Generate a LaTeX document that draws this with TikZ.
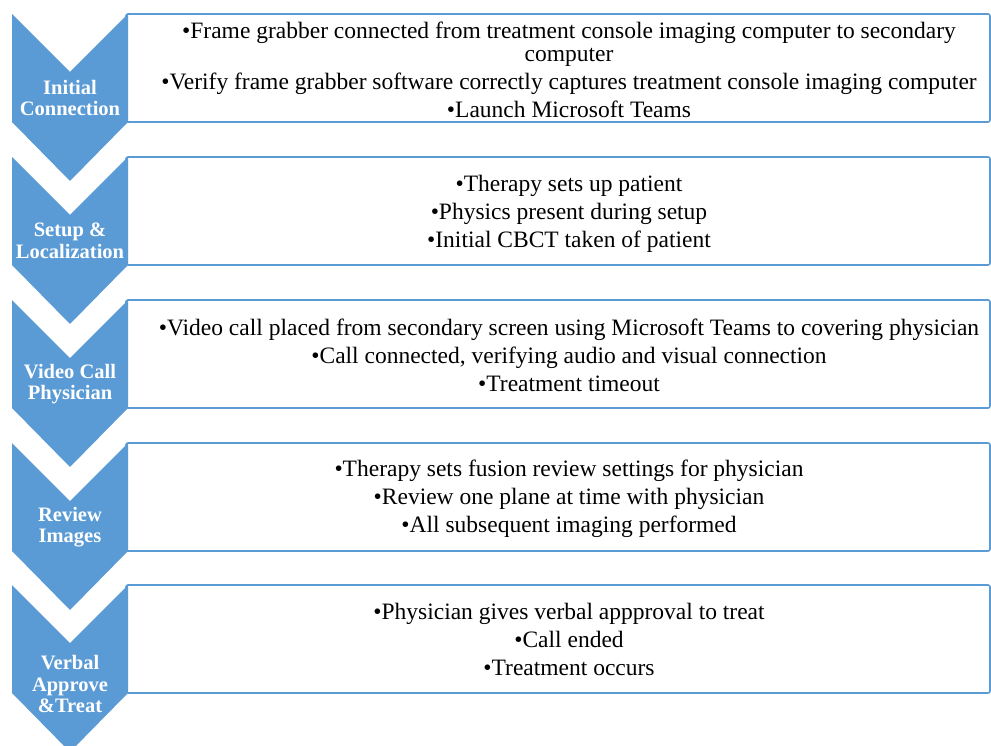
\documentclass[tikz,border=0pt]{standalone}
\usepackage{fontspec}
\setmainfont{Liberation Serif}
\definecolor{stepblue}{HTML}{5B9BD5}
\begin{document}
\begin{tikzpicture}[x=1pt, y=-1pt,
    box/.style={rectangle, draw=stepblue, line width=1.6pt, rounded corners=2pt, fill=white,
      minimum width=864pt, minimum height=108pt, inner sep=0pt},
    txt/.style={align=center, inner sep=0pt, font=\fontsize{23.5}{28}\selectfont},
    chev/.style={fill=stepblue},
    lbl/.style={text=white, align=center, inner sep=0pt, font=\bfseries\fontsize{20.5}{21.5}\selectfont}]
  \clip (0,0) rectangle (991,746);
  % Boxes
  \node (b1) [box] at (558, 68) {};
  \node (b2) [box] at (558, 211) {};
  \node (b3) [box] at (558, 354) {};
  \node (b4) [box] at (558, 497) {};
  \node (b5) [box] at (558, 639) {};
  % Texts
  \node (t1) [txt] at (569, 70) {•Frame grabber connected from treatment console imaging computer to secondary\\[-5pt] computer\\
    •Verify frame grabber software correctly captures treatment console imaging computer\\
    •Launch Microsoft Teams};
  \node (t2) [txt] at (569, 214) {•Therapy sets up patient\\ •Physics present during setup\\ •Initial CBCT taken of patient};
  \node (t3) [txt] at (569, 355) {•Video call placed from secondary screen using Microsoft Teams to covering physician\\ •Call connected, verifying audio and visual connection\\ •Treatment timeout};
  \node (t4) [txt] at (569, 499) {•Therapy sets fusion review settings for physician\\ •Review one plane at time with physician\\ •All subsequent imaging performed};
  \node (t5) [txt] at (569, 639) {•Physician gives verbal appproval to treat\\ •Call ended\\ •Treatment occurs};
  % Chevrons
  \fill[chev] (12,14) -- (70,72) -- (128,14) -- (128,122) -- (70,181) -- (12,122) -- cycle;
  \fill[chev] (12,157) -- (70,215) -- (128,157) -- (128,265) -- (70,324) -- (12,265) -- cycle;
  \fill[chev] (12,300) -- (70,358) -- (128,300) -- (128,408) -- (70,467) -- (12,408) -- cycle;
  \fill[chev] (12,443) -- (70,501) -- (128,443) -- (128,551) -- (70,610) -- (12,551) -- cycle;
  \fill[chev] (12,585) -- (70,643) -- (128,585) -- (128,693) -- (70,752) -- (12,693) -- cycle;
  % Labels
  \node (l1) [lbl] at (70, 98) {Initial\\ Connection};
  \node (l2) [lbl] at (70, 241) {Setup \&\\ Localization};
  \node (l3) [lbl] at (70, 384) {Video Call\\ Physician};
  \node (l4) [lbl] at (70, 527) {Review\\ Images};
  \node (l5) [lbl] at (70, 684) {Verbal\\ Approve\\ \&Treat};
\end{tikzpicture}
\end{document}
